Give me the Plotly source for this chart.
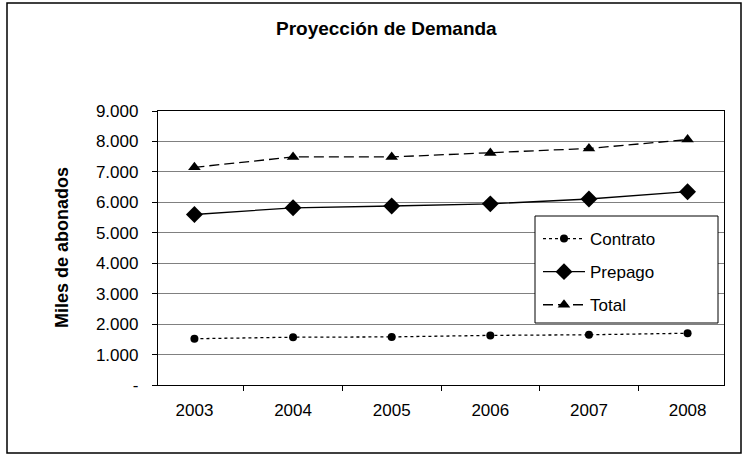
import plotly.graph_objects as go

years = ["2003", "2004", "2005", "2006", "2007", "2008"]
contrato = [1520, 1570, 1580, 1630, 1650, 1700]
prepago = [5600, 5820, 5880, 5950, 6110, 6350]
total = [7150, 7490, 7490, 7620, 7770, 8060]
y_tickvals = [0, 1000, 2000, 3000, 4000, 5000, 6000, 7000, 8000, 9000]
y_ticktext = ["-", "1.000", "2.000", "3.000", "4.000", "5.000", "6.000", "7.000", "8.000", "9.000"]

FONT = "Liberation Sans, Arial, sans-serif"
W, H = 748, 456
L, R, T, B = 158, 24, 111, 71
pw, ph = W - L - R, H - T - B

def px_x(x):
    return (x - L) / pw

def px_y(y):
    return (H - B - y) / ph

fig = go.Figure()
fig.add_trace(go.Scatter(
    x=years, y=contrato, name="Contrato", mode="lines+markers", legendgroup="a",
    line=dict(color="black", width=1.3, dash="3px,3px"),
    marker=dict(symbol="circle", size=8, color="black")))
fig.add_trace(go.Scatter(
    x=years, y=prepago, name="Prepago", mode="lines+markers", legendgroup="b",
    line=dict(color="black", width=1.3),
    marker=dict(symbol="diamond", size=13, color="black")))
fig.add_trace(go.Scatter(
    x=years, y=total, name="Total", mode="lines+markers", legendgroup="c",
    line=dict(color="black", width=1.3, dash="10px,5px"),
    marker=dict(symbol="triangle-up", size=11, color="black")))

fig.update_layout(
    width=W, height=H,
    margin=dict(l=L, r=R, t=T, b=B, pad=0),
    paper_bgcolor="white", plot_bgcolor="white",
    font=dict(family=FONT, size=17, color="black"),
    showlegend=True,
    legend=dict(
        x=px_x(538), y=px_y(221), xanchor="left", yanchor="top",
        bgcolor="rgba(0,0,0,0)", borderwidth=0,
        font=dict(family=FONT, size=17, color="black"),
        itemwidth=42, tracegroupgap=8,
    ),
    xaxis=dict(
        type="category", tickson="boundaries", ticks="outside", ticklen=5,
        tickcolor="black", showline=True, linecolor="black", linewidth=1.3,
        mirror=True, showgrid=False, tickfont=dict(family=FONT, size=17),
        ticklabelstandoff=9,
    ),
    yaxis=dict(
        range=[0, 9000], tickvals=y_tickvals, ticktext=y_ticktext,
        ticks="outside", ticklen=5, tickcolor="black",
        showline=True, linecolor="black", linewidth=1.3, mirror=True,
        showgrid=True, gridcolor="#808080", gridwidth=1,
        zeroline=False, tickfont=dict(family=FONT, size=17),
        ticklabelstandoff=10,
    ),
    shapes=[
        dict(type="rect", xref="paper", yref="paper",
             x0=px_x(7), x1=px_x(741), y0=px_y(453), y1=px_y(3),
             line=dict(color="black", width=1.5), fillcolor="rgba(0,0,0,0)",
             layer="below"),
        dict(type="rect", xref="paper", yref="paper",
             x0=px_x(535), x1=px_x(718), y0=px_y(323), y1=px_y(216),
             line=dict(color="black", width=1), fillcolor="white",
             layer="above"),
    ],
    annotations=[
        dict(text="<b>Proyección de Demanda</b>", xref="paper", yref="paper",
             x=px_x(386), y=px_y(28), xanchor="center", yanchor="middle",
             showarrow=False, font=dict(family=FONT, size=19, color="black")),
        dict(text="<b>Miles de abonados</b>", xref="paper", yref="paper",
             x=px_x(62), y=0.5, xanchor="center", yanchor="middle",
             textangle=-90, showarrow=False,
             font=dict(family=FONT, size=18, color="black")),
    ],
)

fig.write_html("out.html", config={"displayModeBar": False},
               post_script="document.body.style.margin='0';")
